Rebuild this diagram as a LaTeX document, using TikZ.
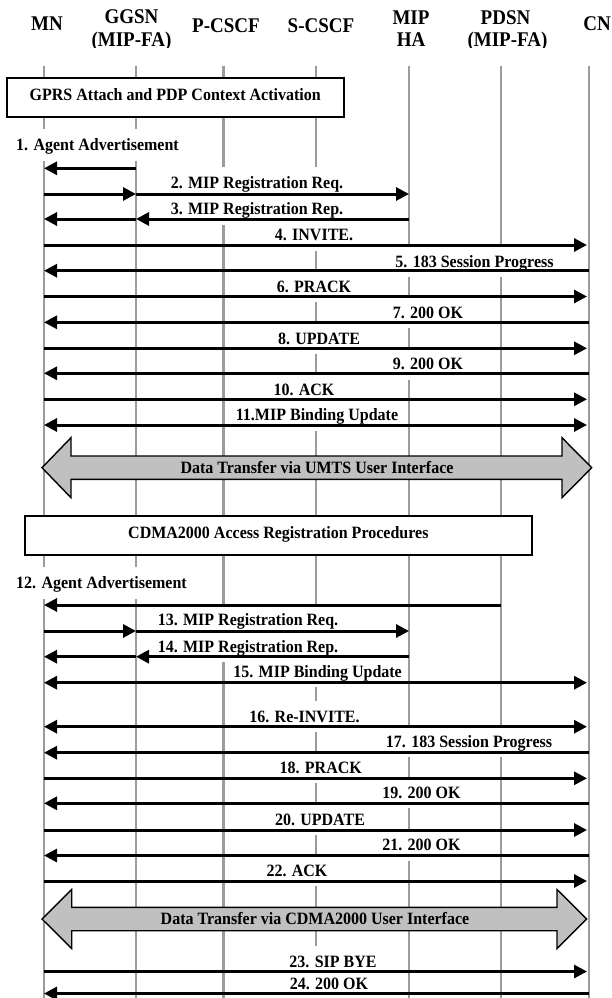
\documentclass[tikz,border=0pt]{standalone}
\usepackage{fontspec}
\usepackage{graphicx}
\setmainfont{Liberation Serif}
\usetikzlibrary{arrows.meta}
\definecolor{lifegray}{RGB}{155,155,155}
\definecolor{arrowgray}{RGB}{192,192,192}
\newcommand{\vst}[1]{\scalebox{1}[1.08]{#1}}
\newcommand{\hst}[1]{\scalebox{1}[1.1]{#1}}
\begin{document}
\begin{tikzpicture}[x=1pt,y=-1pt,
  life/.style={draw=lifegray, line width=2.6pt},
  hdr/.style={font=\bfseries\fontsize{19}{23}\selectfont, anchor=base, inner sep=0pt},
  lbl/.style={font=\bfseries\fontsize{16}{19}\selectfont, fill=white, text height=11.5pt, text depth=0pt, inner xsep=4pt, inner ysep=10pt},
  phase/.style={draw, line width=2pt, fill=white, font=\bfseries\fontsize{16}{19}\selectfont, text height=11.5pt, text depth=6pt, inner sep=0pt},
  msg/.style={line width=3pt, -{Triangle[length=13pt,width=13pt]}},
  msgboth/.style={line width=3pt, {Triangle[length=13pt,width=13pt]}-{Triangle[length=13pt,width=13pt]}},
  toCN/.style={shorten >=2pt},
  bigarrow/.style={draw, line width=1.4pt, fill=arrowgray, line join=miter},
  dtxt/.style={font=\bfseries\fontsize{16}{19}\selectfont, text height=11.5pt, text depth=0pt, inner sep=0pt},
]
\fill[white] (0,0) rectangle (611,998);
\useasboundingbox (0,0) rectangle (611,998);

% lifeline tops
\coordinate (mn) at (44,66);
\coordinate (gg) at (136,66);
\coordinate (pc) at (223.5,66);
\coordinate (sc) at (316,66);
\coordinate (ha) at (409,66);
\coordinate (pd) at (501,66);
\coordinate (cn) at (589,66);
\coordinate (bot) at (0,998);
\foreach \l in {mn,gg,pc,sc,ha,pd,cn}{\draw[life] (\l) -- (\l |- bot);}

% message rows
\coordinate (m1) at (0,168.3);
\coordinate (m2) at (0,194);
\coordinate (m3) at (0,219);
\coordinate (m4) at (0,245);
\coordinate (m5) at (0,270.7);
\coordinate (m6) at (0,296.5);
\coordinate (m7) at (0,322.3);
\coordinate (m8) at (0,348.3);
\coordinate (m9) at (0,373.3);
\coordinate (m10) at (0,399.3);
\coordinate (m11) at (0,425);
\coordinate (m12) at (0,605);
\coordinate (m13) at (0,631);
\coordinate (m14) at (0,656.7);
\coordinate (m15) at (0,682.7);
\coordinate (m16) at (0,726.7);
\coordinate (m17) at (0,752.7);
\coordinate (m18) at (0,778.3);
\coordinate (m19) at (0,803.3);
\coordinate (m20) at (0,830);
\coordinate (m21) at (0,855.5);
\coordinate (m22) at (0,881);
\coordinate (m23) at (0,971.5);
\coordinate (m24) at (0,993.5);

% phase boxes
\node[phase, minimum width=336.5pt, minimum height=39pt] (gprs) at (175.25,97.5) {\vst{GPRS Attach and PDP Context Activation}};
\node[phase, minimum width=506.7pt, minimum height=39pt] (cdma) at (278.35,535.5) {\vst{CDMA2000 Access Registration Procedures}};

% labels
\node[lbl, anchor=west] (l1) at (12,145) {\vst{1. Agent Advertisement}};
\node[lbl] (l2) at (257,182.7) {\vst{2. MIP Registration Req.}};
\node[lbl] (l3) at (257,209) {\vst{3. MIP Registration Rep.}};
\node[lbl] (l4) at (314,235) {\vst{4. INVITE.}};
\node[lbl] (l5) at (474.5,261.7) {\vst{5. 183 Session Progress}};
\node[lbl] (l6) at (314,286.7) {\vst{6. PRACK}};
\node[lbl] (l7) at (428,312.7) {\vst{7. 200 OK}};
\node[lbl] (l8) at (319,338.3) {\vst{8. UPDATE}};
\node[lbl] (l9) at (428,364) {\vst{9. 200 OK}};
\node[lbl] (l10) at (304,389.3) {\vst{10. ACK}};
\node[lbl] (l11) at (317,415) {\vst{11.MIP Binding Update}};
\node[lbl, anchor=west] (l12) at (12,583) {\vst{12. Agent Advertisement}};
\node[lbl] (l13) at (248,620) {\vst{13. MIP Registration Req.}};
\node[lbl] (l14) at (248,646.7) {\vst{14. MIP Registration Rep.}};
\node[lbl] (l15) at (317.6,671.7) {\vst{15. MIP Binding Update}};
\node[lbl] (l16) at (304.5,716.7) {\vst{16. Re-INVITE.}};
\node[lbl] (l17) at (469,741.7) {\vst{17. 183 Session Progress}};
\node[lbl] (l18) at (320.7,767.3) {\vst{18. PRACK}};
\node[lbl] (l19) at (421.5,792.7) {\vst{19. 200 OK}};
\node[lbl] (l20) at (320,819.3) {\vst{20. UPDATE}};
\node[lbl] (l21) at (421.5,845) {\vst{21. 200 OK}};
\node[lbl] (l22) at (297,870.7) {\vst{22. ACK}};
\node[lbl] (l23) at (333,961.7) {\vst{23. SIP BYE}};
\node[lbl] (l24) at (329,983.3) {\vst{24. 200 OK}};

% data transfer arrows
\path[bigarrow] (42,467.7) -- (71,437.7) -- (71,456) -- (562,456) -- (562,437.7) -- (591.7,467.7) -- (562,497.7) -- (562,479.4) -- (71,479.4) -- (71,497.7) -- cycle;
\node[dtxt] (dt1) at (317,467.7) {\vst{Data Transfer via UMTS User Interface}};
\path[bigarrow] (42,919) -- (71.7,889.5) -- (71.7,907.3) -- (557,907.3) -- (557,889.5) -- (586.7,919) -- (557,948.5) -- (557,930.7) -- (71.7,930.7) -- (71.7,948.5) -- cycle;
\node[dtxt] (dt2) at (315,919) {\vst{Data Transfer via CDMA2000 User Interface}};

% messages
\draw[msg] (gg |- m1) -- (mn |- m1);
\draw[msg] (mn |- m2) -- (gg |- m2);
\draw[msg] (gg |- m2) -- (ha |- m2);
\draw[msg] (ha |- m3) -- (gg |- m3);
\draw[msg] (gg |- m3) -- (mn |- m3);
\draw[msg,toCN] (mn |- m4) -- (cn |- m4);
\draw[msg] (cn |- m5) -- (mn |- m5);
\draw[msg,toCN] (mn |- m6) -- (cn |- m6);
\draw[msg] (cn |- m7) -- (mn |- m7);
\draw[msg,toCN] (mn |- m8) -- (cn |- m8);
\draw[msg] (cn |- m9) -- (mn |- m9);
\draw[msg,toCN] (mn |- m10) -- (cn |- m10);
\draw[msgboth,toCN] (mn |- m11) -- (cn |- m11);
\draw[msg] (pd |- m12) -- (mn |- m12);
\draw[msg] (mn |- m13) -- (gg |- m13);
\draw[msg] (gg |- m13) -- (ha |- m13);
\draw[msg] (ha |- m14) -- (gg |- m14);
\draw[msg] (gg |- m14) -- (mn |- m14);
\draw[msgboth,toCN] (mn |- m15) -- (cn |- m15);
\draw[msgboth,toCN] (mn |- m16) -- (cn |- m16);
\draw[msg] (cn |- m17) -- (mn |- m17);
\draw[msg,toCN] (mn |- m18) -- (cn |- m18);
\draw[msg] (cn |- m19) -- (mn |- m19);
\draw[msg,toCN] (mn |- m20) -- (cn |- m20);
\draw[msg] (cn |- m21) -- (mn |- m21);
\draw[msg,toCN] (mn |- m22) -- (cn |- m22);
\draw[msg,toCN] (mn |- m23) -- (cn |- m23);
\draw[msg] (cn |- m24) -- (mn |- m24);

% headers
\begin{scope}
\clip (0,0) rectangle (611,47.3);
\node[hdr] (hmn) at (47,31) {\hst{MN}};
\node[hdr] (hgg1) at (131.5,24) {\hst{GGSN}};
\node[hdr] (hgg2) at (131.5,47) {\hst{(MIP-FA)}};
\node[hdr] (hpc) at (226,33) {\hst{P-CSCF}};
\node[hdr] (hsc) at (321,33) {\hst{S-CSCF}};
\node[hdr] (hha1) at (411,25) {\hst{MIP}};
\node[hdr] (hha2) at (411,47) {\hst{HA}};
\node[hdr] (hpd1) at (505.5,25) {\hst{PDSN}};
\node[hdr] (hpd2) at (507.5,47) {\hst{(MIP-FA)}};
\node[hdr] (hcn) at (597,31) {\hst{CN}};
\end{scope}
\end{tikzpicture}
\end{document}
